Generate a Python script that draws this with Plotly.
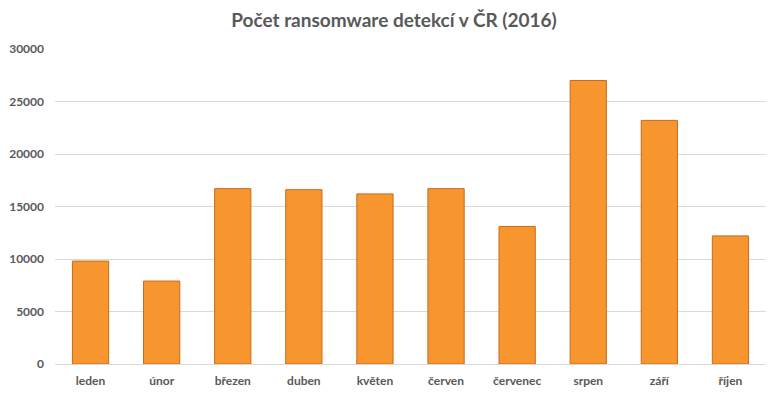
import plotly.graph_objects as go

months = ["leden", "únor", "březen", "duben", "květen", "červen", "červenec", "srpen", "září", "říjen"]
detections = [9800, 7900, 16700, 16600, 16200, 16700, 13100, 27000, 23200, 12200]
y_ticks = [0, 5000, 10000, 15000, 20000, 25000, 30000]

fig = go.Figure()
fig.add_trace(go.Bar(
    x=months,
    y=detections,
    marker=dict(color="#F7952F", line=dict(color="#C96A1C", width=1)),
    width=0.51,
    hoverinfo="x+y",
))

font_family = "Lato, Calibri, 'Open Sans', sans-serif"
fig.update_layout(
    width=772, height=389,
    margin=dict(l=47, r=14, t=41, b=33, autoexpand=False),
    paper_bgcolor="white",
    plot_bgcolor="white",
    showlegend=False,
    title=dict(
        text="<b>Počet ransomware detekcí v ČR (2016)</b>",
        x=0.5, xanchor="center", y=0.968, yanchor="middle",
        font=dict(family=font_family, size=19, color="#595959"),
    ),
    font=dict(family=font_family, size=12, color="#595959"),
)
fig.update_xaxes(
    showgrid=False, showline=False, ticks="",
    tickfont=dict(family=font_family, size=12, color="#595959", weight="bold"),
    ticklabelstandoff=8,
)
fig.update_yaxes(
    range=[0, 30000], tickvals=y_ticks, ticktext=[str(v) for v in y_ticks],
    showgrid=True, gridcolor="#D9D9D9", gridwidth=1,
    zeroline=True, zerolinecolor="#D9D9D9", zerolinewidth=1,
    showline=False, ticks="",
    tickfont=dict(family=font_family, size=12, color="#595959", weight="bold"),
    ticklabelstandoff=10,
)

fig.write_html("out.html")
